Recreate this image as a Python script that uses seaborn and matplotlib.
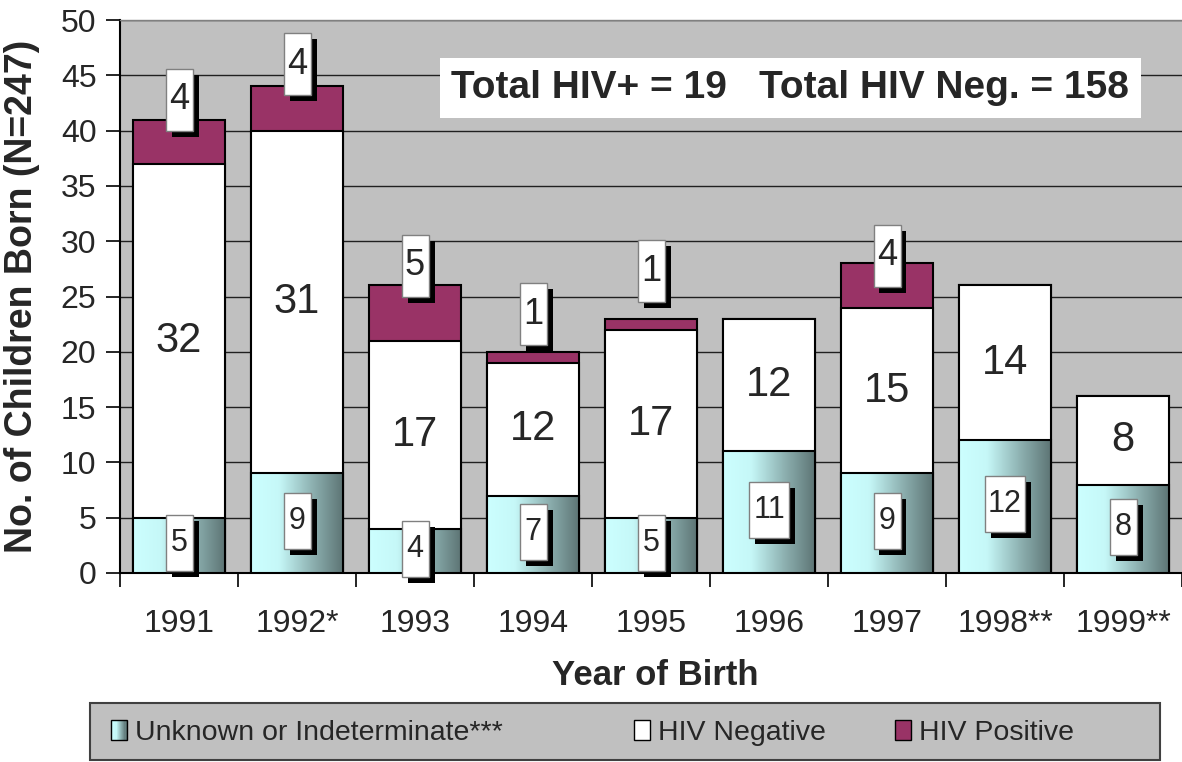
import numpy as np
import pandas as pd
import matplotlib
matplotlib.use("Agg")
import matplotlib.pyplot as plt
import seaborn as sns
from matplotlib.colors import LinearSegmentedColormap
from matplotlib.patches import Rectangle, Patch
from matplotlib.legend_handler import HandlerBase

# data
years = ["1991", "1992*", "1993", "1994", "1995", "1996", "1997", "1998**", "1999**"]
unknown = [5, 9, 4, 7, 5, 11, 9, 12, 8]
hiv_neg = [32, 31, 17, 12, 17, 12, 15, 14, 8]
hiv_pos = [4, 4, 5, 1, 1, 0, 4, 0, 0]

# the HIV+ label boxes were hand placed above the bars in the original
pos_label_y = [42.8, 46.0, 27.8, 23.4, 27.3, 0, 28.7, 0, 0]

GRAY = "#C0C0C0"
MAROON = "#993366"
teal = LinearSegmentedColormap.from_list(
    "teal", [(0, "#CCFFFF"), (0.3, "#C6F8F8"), (0.65, "#8FB3B3"), (1.0, "#5C7373")])

sns.set_style("white")
plt.rcParams["font.family"] = ["Liberation Sans", "DejaVu Sans"]

df = pd.DataFrame({"year": years, "unknown": unknown, "neg": hiv_neg, "pos": hiv_pos})
df["neg_top"] = df["unknown"] + df["neg"]
df["total"] = df["neg_top"] + df["pos"]

W, H = 1182, 762
fig = plt.figure(figsize=(W / 100, H / 100), dpi=100)
ax = fig.add_axes([120 / W, 1 - 573 / H, 1062 / W, 553 / H])
PX_X = 1062 / 9   # pixels per category
PX_Y = 553 / 50   # pixels per count

bar_kw = dict(x="year", width=0.78, edgecolor="black", linewidth=1.5,
              saturation=1, errorbar=None, zorder=3, ax=ax)
sns.barplot(data=df, y="total", color=MAROON, **bar_kw)
sns.barplot(data=df, y="neg_top", color="white", **bar_kw)
sns.barplot(data=df, y="unknown", color="#9CC8C8", **bar_kw)

# horizontal gradient on the bottom segments
grad = np.linspace(0, 1, 256).reshape(1, -1)
for p in ax.containers[2]:
    x0, w, h = p.get_x(), p.get_width(), p.get_height()
    ax.imshow(grad, extent=[x0, x0 + w, 0, h], cmap=teal, aspect="auto",
              interpolation="bicubic", zorder=3.5)
    p.set_facecolor("none")
    p.set_zorder(4)

ax.set_xlim(-0.5, 8.5)
ax.set_ylim(0, 50)


def boxed(x, y, txt, fs, hpx):
    w = (14 + 13 * len(txt)) / PX_X
    h = hpx / PX_Y
    sx, sy = 6 / PX_X, 6 / PX_Y
    ax.add_patch(Rectangle((x - w / 2 + sx, y - h / 2 - sy), w, h, facecolor="black",
                           edgecolor="none", zorder=5, clip_on=False))
    ax.add_patch(Rectangle((x - w / 2, y - h / 2), w, h, facecolor="white",
                           edgecolor="#808080", lw=1, zorder=6, clip_on=False))
    ax.text(x, y, txt, ha="center", va="center", fontsize=fs, zorder=7)


for i in range(len(years)):
    ax.text(i, unknown[i] + hiv_neg[i] / 2, str(hiv_neg[i]), ha="center",
            va="center", fontsize=30, zorder=7)
    boxed(i, unknown[i] / 2 + 0.2, str(unknown[i]), 22, 56)
    if hiv_pos[i] > 0:
        boxed(i, pos_label_y[i], str(hiv_pos[i]), 26, 62)

n_total = sum(unknown) + sum(hiv_neg) + sum(hiv_pos)
ax.text(0.631, 0.877, f"Total HIV+ = {sum(hiv_pos)}   Total HIV Neg. = {sum(hiv_neg)}",
        transform=ax.transAxes, ha="center", va="center", fontsize=28,
        fontweight="bold", zorder=8,
        bbox=dict(boxstyle="square,pad=0.3", fc="white", ec="none"))

# axes styling
ax.set_facecolor(GRAY)
ax.yaxis.grid(True, color="#202020", lw=1)
ax.set_axisbelow(True)
for s in ["left", "bottom"]:
    ax.spines[s].set_color("black")
    ax.spines[s].set_linewidth(1.5)
ax.spines["top"].set_color("#808080")
ax.spines["top"].set_linewidth(1)
ax.spines["right"].set_visible(False)

ax.set_yticks(range(0, 51, 5))
ax.tick_params(axis="y", length=10, width=1.2, color="black", labelsize=23, pad=7, left=True)
ax.set_xticks(range(len(years)))
ax.set_xticklabels(years)
ax.tick_params(axis="x", which="major", length=0, labelsize=23, pad=26)
ax.set_xticks(np.arange(-0.5, len(years), 1), minor=True)
ax.tick_params(axis="x", which="minor", length=10, width=1.2, color="black", bottom=True)

ax.set_ylabel(f"No. of Children Born (N={n_total})", fontsize=27, fontweight="bold")
ax.yaxis.set_label_coords(-0.075, 0.5)
ax.set_xlabel("Year of Birth", fontsize=25, fontweight="bold")
ax.xaxis.set_label_coords(0.504, -0.156)


class GradientHandler(HandlerBase):
    def create_artists(self, legend, orig_handle, xdescent, ydescent, width, height,
                       fontsize, trans):
        n = 14
        arts = []
        for k in range(n):
            arts.append(Rectangle((-xdescent + k * width / n, -ydescent), width / n, height,
                                  facecolor=teal(k / (n - 1)), edgecolor="none", transform=trans))
        arts.append(Rectangle((-xdescent, -ydescent), width, height, fill=False,
                              edgecolor="black", lw=1, transform=trans))
        return arts


# legend frame, then one entry per slot as in the original
fig.patches.append(Rectangle((90 / W, 2 / H), 1070 / W, 57 / H, transform=fig.transFigure,
                             facecolor=GRAY, edgecolor="#404040", lw=1.5, zorder=0))
h_unk = Patch(facecolor="#9CC8C8", edgecolor="black")
h_neg = Patch(facecolor="white", edgecolor="black")
h_pos = Patch(facecolor=MAROON, edgecolor="black")
entries = [(h_unk, "Unknown or Indeterminate***", 111),
           (h_neg, "HIV Negative", 634),
           (h_pos, "HIV Positive", 895)]
for handle, label, xpx in entries:
    fig.legend([handle], [label], handler_map={h_unk: GradientHandler()},
               loc="center left", bbox_to_anchor=(xpx / W, 1 - 733 / H), fontsize=20.5,
               frameon=False, borderaxespad=0, borderpad=0, handlelength=0.55,
               handleheight=0.65, handletextpad=0.3)

fig.savefig("out.png", dpi=100)
